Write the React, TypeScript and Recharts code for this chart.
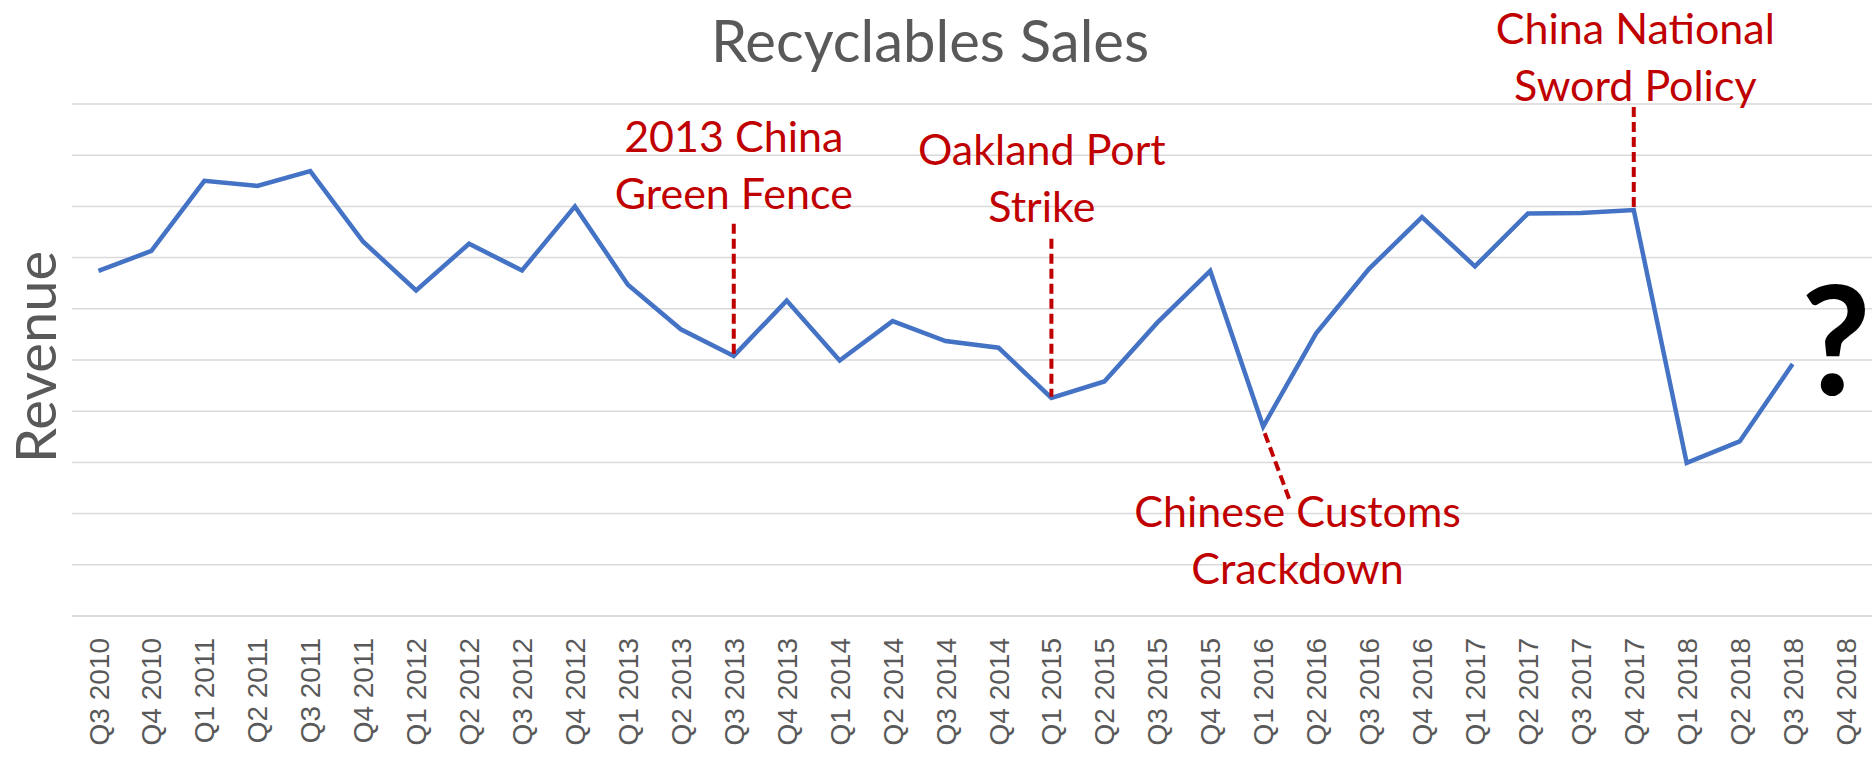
import { LineChart, Line, XAxis, YAxis, CartesianGrid, ReferenceLine, ReferenceDot } from "recharts";

const quarters = [
  "Q3 2010", "Q4 2010",
  "Q1 2011", "Q2 2011", "Q3 2011", "Q4 2011",
  "Q1 2012", "Q2 2012", "Q3 2012", "Q4 2012",
  "Q1 2013", "Q2 2013", "Q3 2013", "Q4 2013",
  "Q1 2014", "Q2 2014", "Q3 2014", "Q4 2014",
  "Q1 2015", "Q2 2015", "Q3 2015", "Q4 2015",
  "Q1 2016", "Q2 2016", "Q3 2016", "Q4 2016",
  "Q1 2017", "Q2 2017", "Q3 2017", "Q4 2017",
  "Q1 2018", "Q2 2018", "Q3 2018", "Q4 2018",
];

// revenue in grid units (no scale shown on the original)
const revenue: (number | null)[] = [
  6.74, 7.13,
  8.5, 8.4, 8.69, 7.31,
  6.36, 7.27, 6.75, 8.0,
  6.47, 5.6, 5.08, 6.16,
  4.99, 5.76, 5.37, 5.24,
  4.26, 4.58, 5.73, 6.74,
  3.7, 5.52, 6.78, 7.79,
  6.83, 7.86, 7.87, 7.93,
  2.99, 3.41, 4.92, null,
];

const yTicks = [0, 1, 2, 3, 4, 5, 6, 7, 8, 9, 10];

// event markers: quarter index, top / bottom of the dashed line
const events = [
  { lines: ["2013 China", "Green Fence"], at: 12, textX: 12, textY: 9.07, top: 7.66, bottom: 5.08 },
  { lines: ["Oakland Port", "Strike"], at: 18, textX: 17.82, textY: 8.81, top: 7.37, bottom: 4.28 },
  { lines: ["China National", "Sword Policy"], at: 29, textX: 29.03, textY: 11.18, top: 9.94, bottom: 7.99 },
];

// this one hangs below the dip, on a slant
const customs = { lines: ["Chinese Customs", "Crackdown"], textX: 22.65, textY: 1.74, from: [22.03, 3.57], to: [22.49, 2.29] };

const data = quarters.map((q, i) => ({ q, idx: i, revenue: revenue[i] }));

const RED = "#C00000";
const GRAY = "#595959";

const note = (lines: string[]) => (p: any) => (
  <text x={p.cx} y={p.cy} textAnchor="middle" fill={RED} fontSize={43} fontFamily="Lato, sans-serif">
    {lines.map((l, i) => (
      <tspan key={i} x={p.cx} dy={i ? 57 : 0}>{l}</tspan>
    ))}
  </text>
);

const Question = (p: any) => (
  <text x={p.cx} y={p.cy} textAnchor="middle" fill="#000" fontSize={152} fontWeight={700} fontFamily="Lato, sans-serif">
    ?
  </text>
);

const QuarterTick = ({ x, y, payload }: any) => (
  <text
    x={x}
    y={y}
    transform={`rotate(-90 ${x} ${y})`}
    textAnchor="end"
    dy="0.36em"
    fill={GRAY}
    fontSize={28}
    fontFamily="Liberation Sans, Arial, sans-serif"
  >
    {payload.value}
  </text>
);

export default function App() {
  return (
    <div style={{ position: "absolute", left: 0, top: 0, width: 1873, height: 757, background: "#fff" }}>
      <LineChart width={1873} height={757} data={data} margin={{ top: 104, right: 1, bottom: 0, left: 72 }}>
        <CartesianGrid vertical={false} stroke="#d9d9d9" strokeWidth={1.5} />
        <XAxis
          dataKey="q"
          interval={0}
          height={141}
          padding={{ left: 26.47, right: 26.47 }}
          axisLine={{ stroke: "#d9d9d9", strokeWidth: 1.5 }}
          tickLine={false}
          tickSize={0}
          tickMargin={22}
          tick={<QuarterTick />}
        />
        <XAxis xAxisId="n" dataKey="idx" type="number" domain={[-0.5, 33.5]} allowDataOverflow hide />
        <YAxis domain={[0, 10]} ticks={yTicks} hide />
        <Line
          dataKey="revenue"
          stroke="#4472C4"
          strokeWidth={4.5}
          dot={false}
          activeDot={false}
          isAnimationActive={false}
        />
        {events.map((e, i) => (
          <ReferenceLine
            key={"l" + i}
            xAxisId="n"
            segment={[{ x: e.at, y: e.top }, { x: e.at, y: e.bottom }]}
            stroke={RED}
            strokeWidth={4}
            strokeDasharray="10 5"
            ifOverflow="visible"
          />
        ))}
        <ReferenceLine
          xAxisId="n"
          segment={[{ x: customs.from[0], y: customs.from[1] }, { x: customs.to[0], y: customs.to[1] }]}
          stroke={RED}
          strokeWidth={4}
          strokeDasharray="10 5"
          ifOverflow="visible"
        />
        {events.map((e, i) => (
          <ReferenceDot key={"t" + i} xAxisId="n" x={e.textX} y={e.textY} r={0} ifOverflow="visible" shape={note(e.lines)} />
        ))}
        <ReferenceDot xAxisId="n" x={customs.textX} y={customs.textY} r={0} ifOverflow="visible" shape={note(customs.lines)} />
        <ReferenceDot xAxisId="n" x={32.82} y={4.32} r={0} ifOverflow="visible" shape={Question} />
      </LineChart>
      <svg width={1873} height={757} style={{ position: "absolute", left: 0, top: 0, pointerEvents: "none" }}>
        <text x={930} y={62} textAnchor="middle" fill={GRAY} fontSize={58} fontFamily="Lato, sans-serif">
          Recyclables Sales
        </text>
        <text
          x={56}
          y={357}
          transform="rotate(-90 56 357)"
          textAnchor="middle"
          fill={GRAY}
          fontSize={56}
          fontFamily="Lato, sans-serif"
        >
          Revenue
        </text>
      </svg>
    </div>
  );
}
